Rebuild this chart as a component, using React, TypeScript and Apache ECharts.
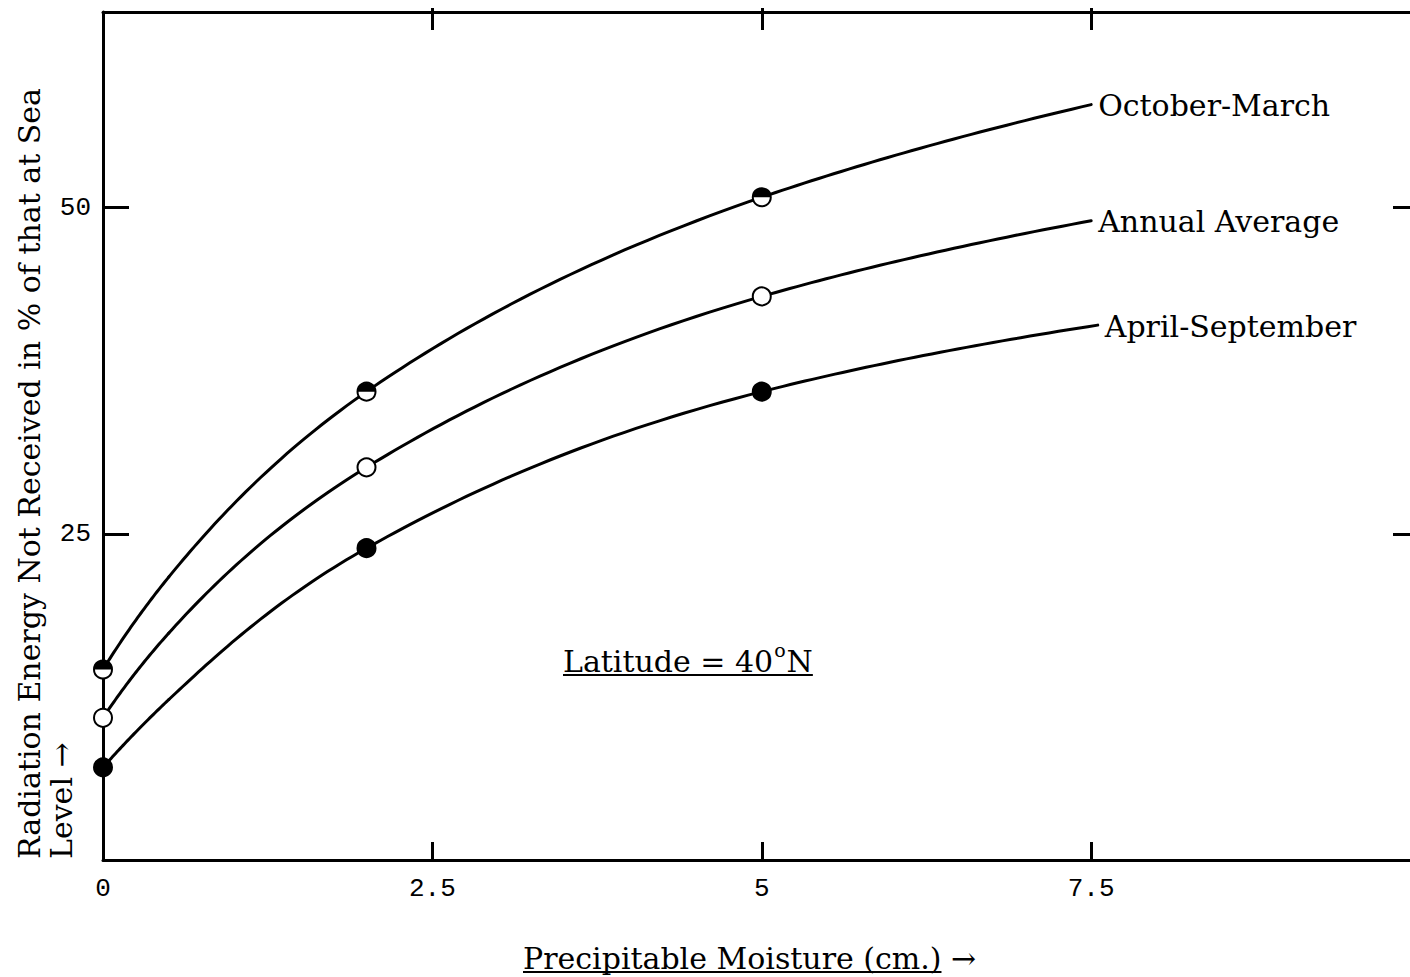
import React, { useEffect, useRef } from "react";
import * as echarts from "echarts";

// ---- data ----
const xTickValues = [0, 2.5, 5, 7.5];
const xTopTickValues = [2.5, 5, 7.5];
const yTickValues = [25, 50];

const seriesNames = ["October-March", "Annual Average", "April-September"];

// plotted (marked) observations
const markerX = [0, 2, 5];
const octMarMarkY = [14.6, 35.9, 50.8];
const annualMarkY = [10.9, 30.1, 43.2];
const aprSepMarkY = [7.1, 23.9, 35.9];

// points
const octMarCurveX = [0, 0.5, 2, 5, 7.5];
const octMarCurveY = [14.6, 21.7, 35.9, 50.8, 57.9];

const annualCurveX = [0, 0.5, 2, 5, 7.5];
const annualCurveY = [10.9, 17.4, 30.1, 43.2, 49.0];

const aprSepCurveX = [0, 0.5, 2, 5, 7.55];
const aprSepCurveY = [7.1, 12.3, 23.9, 35.9, 41.0];

const xTitle = "Precipitable Moisture (cm.)";
const yTitleLine1 = "Radiation Energy Not Received in % of that at Sea";
const yTitleLine2 = "Level \u2192";
const latitudeText = "Latitude = 40";

const SERIF = "DejaVu Serif";
const MONO = "Liberation Mono";

function measure(text: string, font: string): number {
  const c = document.createElement("canvas").getContext("2d");
  if (!c) return text.length * 15;
  c.font = font;
  return c.measureText(text).width;
}

// the curves are drawn as a cubic Hermite curve in u = ln(1 + x)
const toU = (x: number) => Math.log(1 + x);
const fromU = (u: number) => Math.exp(u) - 1;

function tangents(us: number[], ys: number[]): number[] {
  const n = us.length;
  const h: number[] = [];
  const s: number[] = [];
  for (let i = 0; i < n - 1; i++) {
    h[i] = us[i + 1] - us[i];
    s[i] = (ys[i + 1] - ys[i]) / h[i];
  }
  const d: number[] = new Array(n);
  d[0] = ((2 * h[0] + h[1]) * s[0] - h[0] * s[1]) / (h[0] + h[1]);
  d[n - 1] = ((2 * h[n - 2] + h[n - 3]) * s[n - 2] - h[n - 2] * s[n - 3]) / (h[n - 2] + h[n - 3]);
  for (let i = 1; i < n - 1; i++) {
    d[i] = (h[i] * s[i - 1] + h[i - 1] * s[i]) / (h[i - 1] + h[i]);
  }
  return d;
}

function segmentPoints(us: number[], ys: number[], d: number[], i: number, steps = 40): number[][] {
  const u0 = us[i], u1 = us[i + 1], y0 = ys[i], y1 = ys[i + 1];
  const hh = u1 - u0;
  const out: number[][] = [];
  for (let k = 0; k <= steps; k++) {
    const t = k / steps;
    const t2 = t * t, t3 = t2 * t;
    const h00 = 2 * t3 - 3 * t2 + 1;
    const h10 = t3 - 2 * t2 + t;
    const h01 = -2 * t3 + 3 * t2;
    const h11 = t3 - t2;
    out.push([fromU(u0 + t * hh), h00 * y0 + h10 * hh * d[i] + h01 * y1 + h11 * hh * d[i + 1]]);
  }
  return out;
}

function curveSeries(name: string, xs: number[], ys: number[]) {
  const us = xs.map(toU);
  const d = tangents(us, ys);
  const n = xs.length;
  return {
    type: "custom",
    name,
    data: xs.map((x, i) => [x, ys[i]]),
    encode: { x: 0, y: 1 },
    z: 2,
    silent: true,
    renderItem: (params: any, api: any) => {
      const i = params.dataIndex;
      if (i < n - 1) {
        const pts = segmentPoints(us, ys, d, i).map((p) => api.coord(p));
        return {
          type: "polyline",
          shape: { points: pts },
          style: { stroke: "#000", lineWidth: 3, fill: "none", lineJoin: "round", lineCap: "round" },
        };
      }
      const end = api.coord([xs[i], ys[i]]);
      return {
        type: "text",
        x: end[0] + 7,
        y: end[1] + 1,
        style: {
          text: name,
          fontFamily: SERIF,
          fontSize: 30,
          fill: "#000",
          align: "left",
          verticalAlign: "middle",
        },
      };
    },
  };
}

function markerSeries(xs: number[], ys: number[], fill: string) {
  return {
    type: "scatter",
    data: xs.map((x, i) => [x, ys[i]]),
    symbol: "circle",
    symbolSize: 18,
    itemStyle: { color: fill, borderColor: "#000", borderWidth: 2, opacity: 1 },
    silent: true,
    z: 4,
  };
}

export default function App() {
  const ref = useRef<HTMLDivElement>(null);

  useEffect(() => {
    document.body.style.margin = "0";
    if (!ref.current) return;
    const chart = echarts.init(ref.current, null, { renderer: "svg" });

    const axisLineStyle = { color: "#000", width: 3 };

    const titleFont = `30px "${SERIF}"`;
    const xTitleW = measure(xTitle, titleFont);
    const latW =
      measure(latitudeText, titleFont) + measure("o", `19px "${SERIF}"`) + 2 + measure("N", titleFont);

    const xBase = { type: "value", min: 0, max: 9.92, interval: 2.5, splitLine: { show: false } };
    const yBase = { type: "value", min: 0, max: 65, interval: 25, splitLine: { show: false } };

    const option: any = {
      animation: false,
      backgroundColor: "#fff",
      grid: { left: 103, right: 0, top: 12, bottom: 117, outerBoundsMode: "none" },
      xAxis: [
        {
          ...xBase,
          position: "bottom",
          axisLine: { show: true, onZero: false, lineStyle: axisLineStyle },
          axisTick: { show: true, inside: true, length: 18, lineStyle: axisLineStyle, customValues: xTickValues },
          axisLabel: {
            show: true,
            margin: 16,
            fontFamily: MONO,
            fontSize: 26,
            color: "#000",
            customValues: xTickValues,
            formatter: (v: number) => String(v),
          },
        },
        {
          ...xBase,
          position: "top",
          axisLine: { show: true, onZero: false, lineStyle: axisLineStyle },
          axisTick: { show: true, inside: true, length: 18, lineStyle: axisLineStyle, customValues: xTopTickValues },
          axisLabel: { show: false },
        },
        {
          ...xBase,
          position: "top",
          axisLine: { show: false, onZero: false },
          axisTick: { show: true, inside: false, length: 4, lineStyle: axisLineStyle, customValues: xTopTickValues },
          axisLabel: { show: false },
        },
      ],
      yAxis: [
        {
          ...yBase,
          position: "left",
          axisLine: { show: true, onZero: false, lineStyle: axisLineStyle },
          axisTick: { show: true, inside: true, length: 26, lineStyle: axisLineStyle, customValues: yTickValues },
          axisLabel: {
            show: true,
            margin: 12,
            fontFamily: MONO,
            fontSize: 26,
            color: "#000",
            customValues: yTickValues,
            formatter: (v: number) => String(v),
          },
        },
        {
          ...yBase,
          position: "right",
          axisLine: { show: false, onZero: false },
          axisTick: { show: true, inside: true, length: 17, lineStyle: axisLineStyle, customValues: yTickValues },
          axisLabel: { show: false },
        },
      ],
      series: [
        curveSeries(seriesNames[0], octMarCurveX, octMarCurveY),
        curveSeries(seriesNames[1], annualCurveX, annualCurveY),
        curveSeries(seriesNames[2], aprSepCurveX, aprSepCurveY),
        markerSeries(markerX, octMarMarkY, "#fff"),
        {
          type: "scatter",
          data: markerX.map((x, i) => [x, octMarMarkY[i]]),
          symbol: "path://M0,10A10,10 0 0 1 20,10Z",
          symbolSize: [18, 9],
          symbolOffset: [0, -4.5],
          itemStyle: { color: "#000", opacity: 1 },
          silent: true,
          z: 5,
        },
        markerSeries(markerX, annualMarkY, "#fff"),
        markerSeries(markerX, aprSepMarkY, "#000"),
      ],
      graphic: [
        {
          type: "text",
          x: 13,
          y: 859,
          rotation: Math.PI / 2,
          style: {
            text: yTitleLine1 + "\n" + yTitleLine2,
            fontFamily: SERIF,
            fontSize: 30,
            lineHeight: 32,
            fill: "#000",
            align: "left",
            verticalAlign: "top",
          },
        },
        {
          type: "text",
          x: 523,
          y: 958,
          style: {
            text: xTitle + " \u2192",
            fontFamily: SERIF,
            fontSize: 30,
            fill: "#000",
            align: "left",
            verticalAlign: "middle",
          },
        },
        {
          type: "line",
          shape: { x1: 523, y1: 972, x2: 523 + xTitleW, y2: 972 },
          style: { stroke: "#000", lineWidth: 2 },
        },
        {
          type: "text",
          x: 563,
          y: 658,
          style: {
            text: "{n|" + latitudeText + "}{s|o}{n|N}",
            fill: "#000",
            align: "left",
            verticalAlign: "middle",
            rich: {
              n: { fontFamily: SERIF, fontSize: 30, fill: "#000", lineHeight: 36, verticalAlign: "bottom" },
              s: { fontFamily: SERIF, fontSize: 19, fill: "#000", lineHeight: 36, verticalAlign: "top", padding: [0, 1, 0, 1] },
            },
          },
        },
        {
          type: "line",
          shape: { x1: 563, y1: 675, x2: 563 + latW, y2: 675 },
          style: { stroke: "#000", lineWidth: 2 },
        },
      ],
    };

    chart.setOption(option);
    return () => chart.dispose();
  }, []);

  return <div ref={ref} style={{ width: 1410, height: 977 }} />;
}
